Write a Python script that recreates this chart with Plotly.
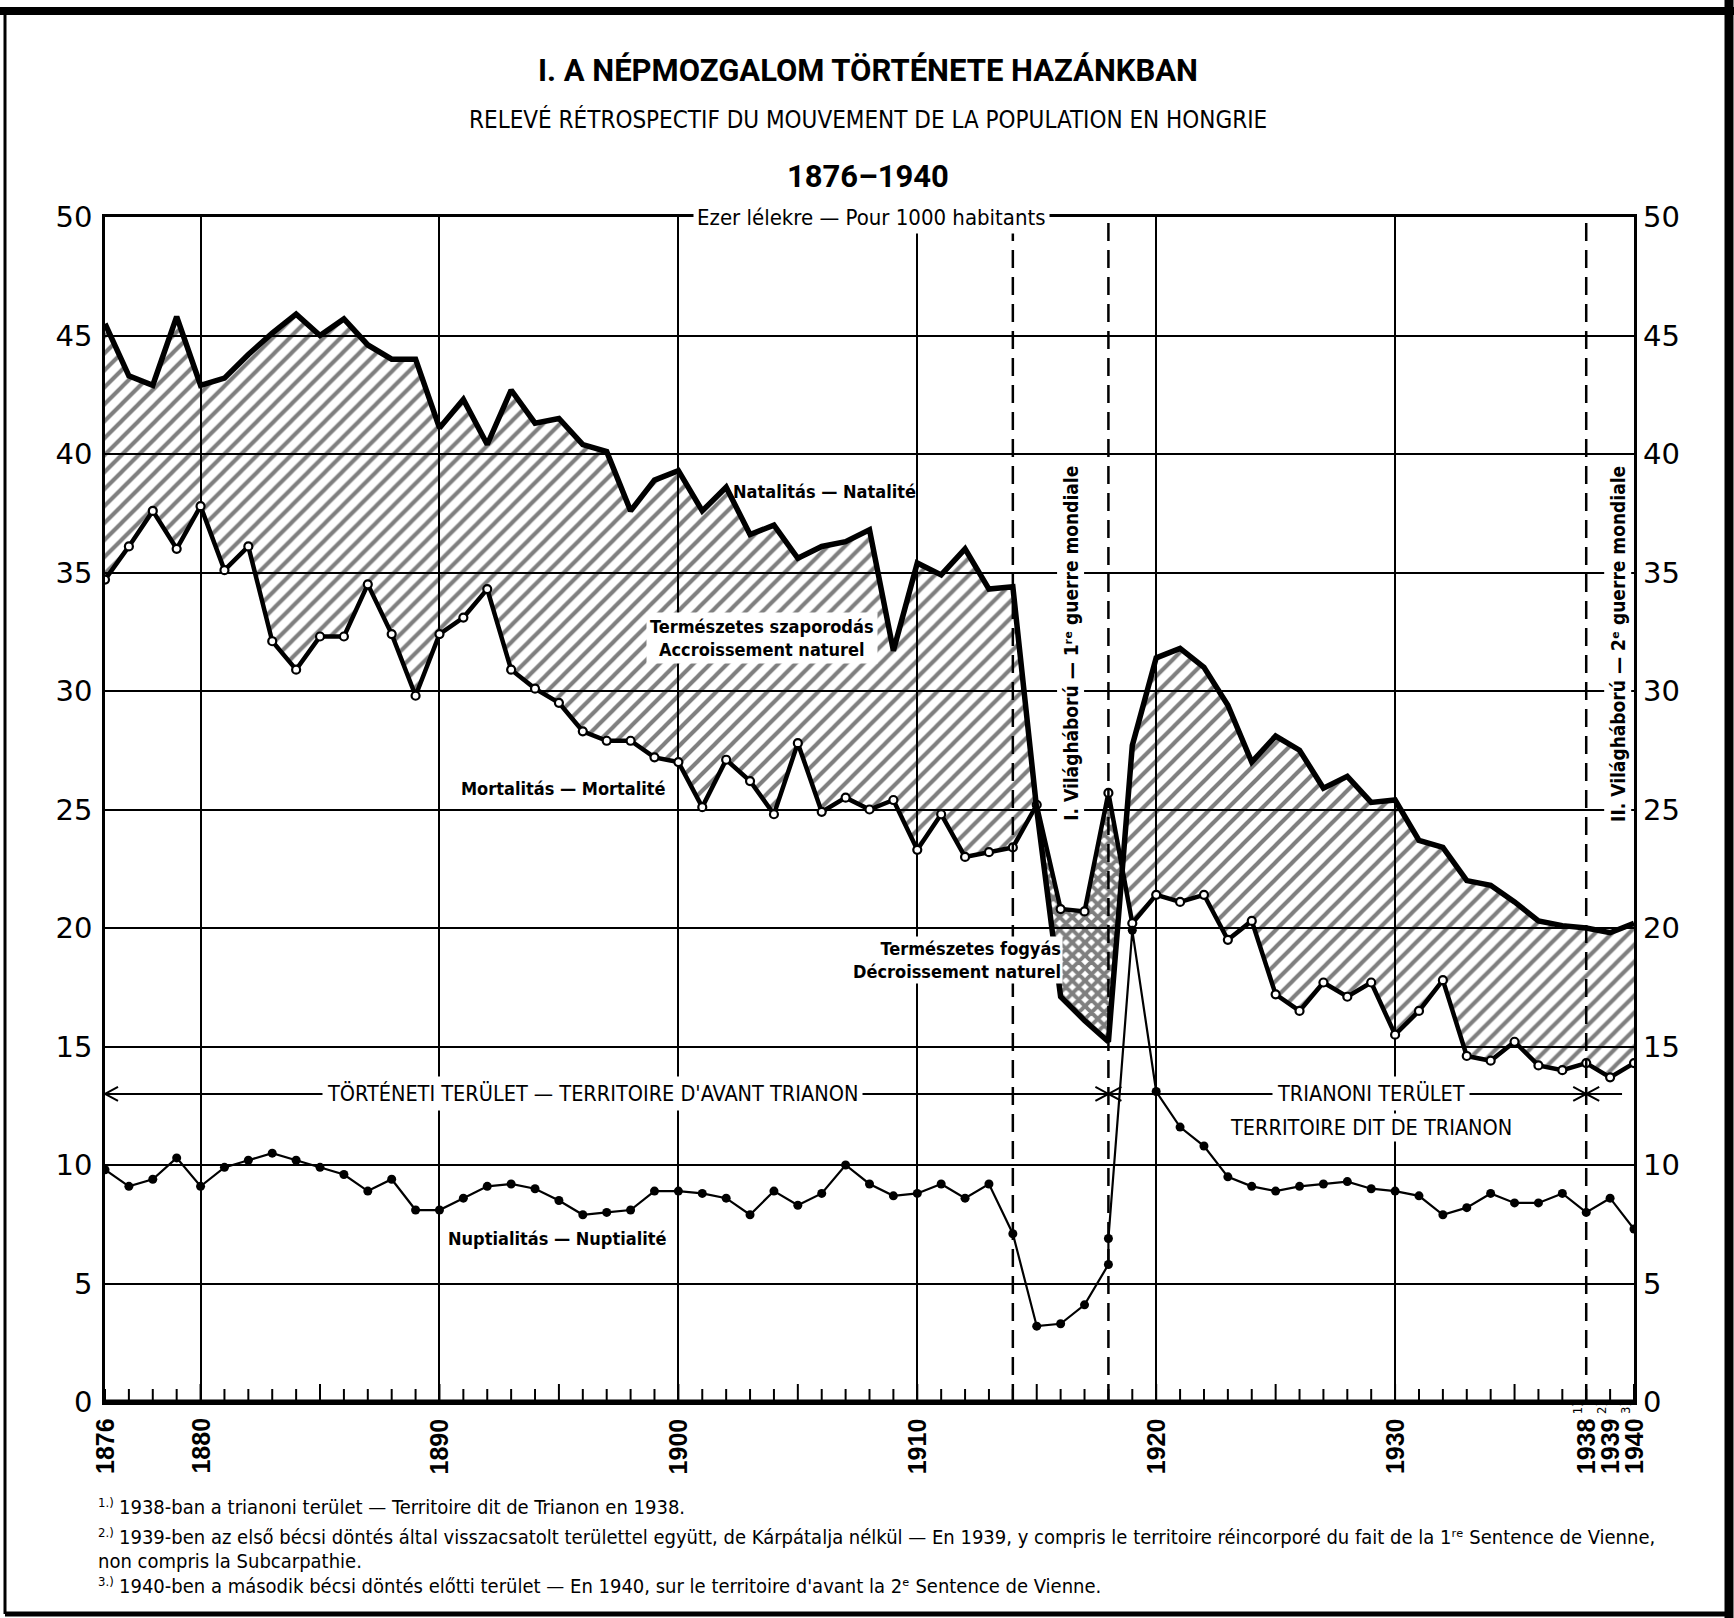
import numpy as np
import plotly.graph_objects as go

# ---------------- data (per 1000 inhabitants) ----------------
years = list(range(1876, 1941))
natality = [45.5, 43.3, 42.9, 45.8, 42.9, 43.2, 44.2, 45.1, 45.9, 45.0,
            45.7, 44.6, 44.0, 44.0, 41.1, 42.3, 40.4, 42.7, 41.3, 41.5,
            40.4, 40.1, 37.6, 38.9, 39.3, 37.6, 38.6, 36.6, 37.0, 35.6,
            36.1, 36.3, 36.8, 31.7, 35.4, 34.9, 36.0, 34.3, 34.4, 25.0,
            17.1, 16.1, 15.2, 27.7, 31.4, 31.8, 31.0, 29.4, 27.0, 28.1,
            27.5, 25.9, 26.4, 25.3, 25.4, 23.7, 23.4, 22.0, 21.8, 21.1,
            20.3, 20.1, 20.0, 19.8, 20.2]
mortality = [34.7, 36.1, 37.6, 36.0, 37.8, 35.1, 36.1, 32.1, 30.9, 32.3,
             32.3, 34.5, 32.4, 29.8, 32.4, 33.1, 34.3, 30.9, 30.1, 29.5,
             28.3, 27.9, 27.9, 27.2, 27.0, 25.1, 27.1, 26.2, 24.8, 27.8,
             24.9, 25.5, 25.0, 25.4, 23.3, 24.8, 23.0, 23.2, 23.4, 25.2,
             20.8, 20.7, 25.7, 20.2, 21.4, 21.1, 21.4, 19.5, 20.3, 17.2,
             16.5, 17.7, 17.1, 17.7, 15.5, 16.5, 17.8, 14.6, 14.4, 15.2,
             14.2, 14.0, 14.3, 13.7, 14.3]
nupt_years = [1876, 1877, 1878, 1879, 1880, 1881, 1882, 1883, 1884, 1885,
              1886, 1887, 1888, 1889, 1890, 1891, 1892, 1893, 1894, 1895,
              1896, 1897, 1898, 1899, 1900, 1901, 1902, 1903, 1904, 1905,
              1906, 1907, 1908, 1909, 1910, 1911, 1912, 1913, 1914, 1915,
              1916, 1917, 1918, 1918, 1919, 1920, 1921, 1922, 1923, 1924,
              1925, 1926, 1927, 1928, 1929, 1930, 1931, 1932, 1933, 1934,
              1935, 1936, 1937, 1938, 1939, 1940]
nuptiality = [9.8, 9.1, 9.4, 10.3, 9.1, 9.9, 10.2, 10.5, 10.2, 9.9,
              9.6, 8.9, 9.4, 8.1, 8.1, 8.6, 9.1, 9.2, 9.0, 8.5,
              7.9, 8.0, 8.1, 8.9, 8.9, 8.8, 8.6, 7.9, 8.9, 8.3,
              8.8, 10.0, 9.2, 8.7, 8.8, 9.2, 8.6, 9.2, 7.1, 3.2,
              3.3, 4.1, 5.8, 6.9, 19.9, 13.1, 11.6, 10.8, 9.5, 9.1,
              8.9, 9.1, 9.2, 9.3, 9.0, 8.9, 8.7, 7.9, 8.2, 8.8,
              8.4, 8.4, 8.8, 8.0, 8.6, 7.3]

y_ticks = list(range(0, 51, 5))
decade_years = [1880, 1890, 1900, 1910, 1920, 1930]
label_years = [1876, 1880, 1890, 1900, 1910, 1920, 1930, 1938, 1939, 1940]
label_texts = [str(v) for v in label_years]
note_years = [1938, 1939, 1940]
note_marks = ["1)", "2)", "3)"]
war_lines = [1914, 1918, 1938]
territory_level = 13
territory_bounds = [1876, 1918, 1938, 1939.5]

# ---------------- layout geometry ----------------
W, H = 1734, 1618
L, R, T, B = 105, 100, 217, 216
PW, PH = W - L - R, H - T - B


def paper(xp, yp):
    return (xp - L) / PW, (H - B - yp) / PH


NARROW = "Liberation Sans Narrow, DejaVu Sans Condensed, Arial Narrow, Roboto Condensed, sans-serif"
TITLEF = "Roboto, Liberation Sans, Arial, sans-serif"
BOLDF = "Liberation Sans, Arial, Helvetica, sans-serif"
GEOM = "DejaVu Sans, Verdana, sans-serif"

fig = go.Figure()


# ---------------- filled regions (split where the curves cross) ----------------
def split_regions(x, a, b):
    x = np.asarray(x, float)
    a = np.asarray(a, float)
    b = np.asarray(b, float)
    d = a - b
    regs = []
    cx, ca, cb = [x[0]], [a[0]], [b[0]]
    sign = np.sign(d[0])
    for i in range(1, len(x)):
        s = np.sign(d[i])
        if s != 0 and sign != 0 and s != sign:
            t = d[i - 1] / (d[i - 1] - d[i])
            xc = x[i - 1] + t * (x[i] - x[i - 1])
            yc = a[i - 1] + t * (a[i] - a[i - 1])
            cx.append(xc); ca.append(yc); cb.append(yc)
            regs.append((sign, cx, ca, cb))
            cx, ca, cb = [xc], [yc], [yc]
            sign = s
        cx.append(x[i]); ca.append(a[i]); cb.append(b[i])
    regs.append((sign, cx, ca, cb))
    return regs


for sign, rx, ra, rb in split_regions(years, natality, mortality):
    px_ = list(rx) + list(rx)[::-1]
    py_ = list(ra) + list(rb)[::-1]
    if sign > 0:
        pat = dict(shape="/", size=12, solidity=0.34, fgcolor="black",
                   bgcolor="rgba(0,0,0,0)", fillmode="overlay")
    else:
        pat = dict(shape="x", size=9, solidity=0.68, fgcolor="black",
                   bgcolor="rgba(0,0,0,0)", fillmode="overlay")
    fig.add_trace(go.Scatter(x=px_, y=py_, fill="toself", mode="none",
                             fillcolor="rgba(0,0,0,0)", fillpattern=pat,
                             hoverinfo="skip", showlegend=False))

# ---------------- lines ----------------
fig.add_trace(go.Scatter(x=years, y=mortality, mode="lines+markers",
                         line=dict(color="black", width=4.5),
                         marker=dict(symbol="circle", size=8, color="white",
                                     line=dict(color="black", width=2.2)),
                         showlegend=False, hoverinfo="skip"))
fig.add_trace(go.Scatter(x=years, y=natality, mode="lines",
                         line=dict(color="black", width=5.5),
                         showlegend=False, hoverinfo="skip"))
fig.add_trace(go.Scatter(x=nupt_years, y=nuptiality, mode="lines+markers",
                         line=dict(color="black", width=2.2),
                         marker=dict(symbol="circle", size=9, color="black"),
                         showlegend=False, hoverinfo="skip"))
# empty trace to register the right-hand axis
fig.add_trace(go.Scatter(x=[], y=[], yaxis="y2", showlegend=False))

# ---------------- shapes ----------------
shapes = []
for wy in war_lines:
    shapes.append(dict(type="line", xref="x", yref="y", x0=wy, x1=wy, y0=0, y1=50,
                       line=dict(color="black", width=2.5, dash="18px,9px"), layer="above"))
# year ticks on the base line
for yr in years:
    up = 18 if yr % 5 == 0 else 13
    shapes.append(dict(type="line", xref="x", yref="y", x0=yr, x1=yr,
                       ysizemode="pixel", yanchor=0, y0=-10, y1=up,
                       line=dict(color="black", width=2), layer="above"))
# thick base line
shapes.append(dict(type="line", xref="paper", yref="y", x0=0, x1=1, y0=0, y1=0,
                   line=dict(color="black", width=5), layer="above"))

# territory line with chevron arrow heads
shapes.append(dict(type="line", xref="x", yref="y", x0=territory_bounds[0],
                   x1=territory_bounds[-1], y0=territory_level, y1=territory_level,
                   line=dict(color="black", width=2), layer="above"))
LEFT_HEAD = "M 13 7 L 0 0 L 13 -7"
RIGHT_HEAD = "M -13 7 L 0 0 L -13 -7"
heads = [(territory_bounds[0], [LEFT_HEAD])]
for xb in territory_bounds[1:3]:
    heads.append((xb, [LEFT_HEAD, RIGHT_HEAD]))
for xb, paths in heads:
    for pth in paths:
        shapes.append(dict(type="path", xref="x", yref="y", xsizemode="pixel",
                           ysizemode="pixel", xanchor=xb, yanchor=territory_level,
                           path=pth, line=dict(color="black", width=2), layer="above"))

# outer frame
fx0, fy0 = paper(5, 11)
fx1, fy1 = paper(1729, 1614)
shapes.append(dict(type="line", xref="paper", yref="paper", x0=paper(0, 0)[0], x1=paper(W, 0)[0],
                   y0=fy0, y1=fy0, line=dict(color="black", width=8)))
shapes.append(dict(type="line", xref="paper", yref="paper", x0=fx1, x1=fx1,
                   y0=paper(0, 0)[1], y1=paper(0, H)[1], line=dict(color="black", width=9)))
shapes.append(dict(type="line", xref="paper", yref="paper", x0=fx0, x1=fx0,
                   y0=fy0, y1=fy1, line=dict(color="black", width=3)))
shapes.append(dict(type="line", xref="paper", yref="paper", x0=fx0, x1=fx1,
                   y0=fy1, y1=fy1, line=dict(color="black", width=5)))

# ---------------- annotations ----------------
ann = []


def text(x, y, s, size=19, font=NARROW, xref="x", yref="y", bg="rgba(0,0,0,0)", angle=0,
         xanchor="center", yanchor="middle", align="center", color="black", pad=1):
    ann.append(dict(x=x, y=y, xref=xref, yref=yref, text=s, showarrow=False, textangle=angle,
                    xanchor=xanchor, yanchor=yanchor, align=align, bgcolor=bg, borderpad=pad,
                    font=dict(family=font, size=size, color=color)))


# titles
tx, ty = paper(868, 70)
text(tx, ty, "<b>I. A NÉPMOZGALOM TÖRTÉNETE HAZÁNKBAN</b>", size=31, font=TITLEF,
     xref="paper", yref="paper")
tx, ty = paper(868, 120)
text(tx, ty, "RELEVÉ RÉTROSPECTIF DU MOUVEMENT DE LA POPULATION EN HONGRIE", size=24,
     xref="paper", yref="paper")
tx, ty = paper(868, 177)
text(tx, ty, "<b>1876–1940</b>", size=31, font=TITLEF, xref="paper", yref="paper")

text(1908.1, 50, "Ezer lélekre — Pour 1000 habitants", size=22, bg="white", pad=3)
text(1906.1, 38.4, "<b>Natalitás — Natalité</b>", size=18)
text(1903.5, 32.25, "<b>Természetes szaporodás<br>Accroissement naturel</b>", size=18,
     bg="white", pad=3)
text(1895.2, 25.9, "<b>Mortalitás — Mortalité</b>", size=18)
text(1916.1, 18.65, "<b>Természetes fogyás<br>Décroissement naturel</b>", size=18,
     bg="white", xanchor="right", align="right")
text(1894.9, 6.9, "<b>Nuptialitás — Nuptialité</b>", size=18)
text(1916.4, 32.0, "<b>I. Világháború — 1ʳᵉ guerre mondiale</b>", size=19,
     angle=-90, bg="white", pad=2)
text(1939.3, 32.0, "<b>II. Világháború — 2ᵉ guerre mondiale</b>", size=19,
     angle=-90, bg="white", pad=2)

text(1896.4, territory_level, "TÖRTÉNETI TERÜLET — TERRITOIRE D'AVANT TRIANON", size=21.5,
     bg="white", pad=4)
text(1929.0, territory_level, "TRIANONI TERÜLET", size=21.5, bg="white", pad=4)
text(1929.0, 11.6, "TERRITOIRE DIT DE TRIANON", size=21.5, bg="white", pad=1)

# x tick labels (rotated)
for yr, lab in zip(label_years, label_texts):
    ann.append(dict(x=yr, y=0, xref="x", yref="y", text="<b>" + lab + "</b>", showarrow=False,
                    textangle=-90, xanchor="center", yanchor="top", yshift=-14,
                    font=dict(family=BOLDF, size=25, color="black")))
for yr, mk in zip(note_years, note_marks):
    ann.append(dict(x=yr - 0.38, y=0, xref="x", yref="y", text=mk, showarrow=False,
                    textangle=-90, xanchor="center", yanchor="top", yshift=2,
                    font=dict(family=NARROW, size=13, color="black")))

# footnotes: small raised marks + text lines
notes = [
    (1507, "1.)", "1938-ban a trianoni terület — Territoire dit de Trianon en 1938."),
    (1537, "2.)", "1939-ben az első bécsi döntés által visszacsatolt területtel együtt, de Kárpátalja nélkül — En 1939, y compris le territoire réincorporé du fait de la 1ʳᵉ Sentence de Vienne,"),
    (1561, "", "non compris la Subcarpathie."),
    (1586, "3.)", "1940-ben a második bécsi döntés előtti terület — En 1940, sur le territoire d'avant la 2ᵉ Sentence de Vienne."),
]
for yp, mark, s in notes:
    if mark:
        mx, my = paper(96, yp - 5)
        text(mx, my, mark, size=13, xref="paper", yref="paper", xanchor="left", align="left")
        nx, ny = paper(117, yp)
    else:
        nx, ny = paper(96, yp)
    text(nx, ny, s, size=20, xref="paper", yref="paper", xanchor="left", align="left")

# ---------------- axes ----------------
axis_font = dict(family=GEOM, size=29, color="black")
fig.update_layout(
    width=W, height=H,
    margin=dict(l=L, r=R, t=T, b=B, autoexpand=False),
    paper_bgcolor="white", plot_bgcolor="white",
    showlegend=False,
    xaxis=dict(range=[1876, 1940], tickmode="array", tickvals=decade_years,
               showticklabels=False, ticks="", showgrid=True, gridcolor="black",
               gridwidth=1.6, zeroline=False, showline=True, mirror=True,
               linecolor="black", linewidth=2.5),
    yaxis=dict(range=[0, 50], tickmode="array", tickvals=y_ticks,
               ticktext=[str(v) for v in y_ticks], tickfont=axis_font,
               ticks="", ticklabelstandoff=4, showgrid=True, gridcolor="black",
               gridwidth=2.2, zeroline=False, showline=True, mirror=True,
               linecolor="black", linewidth=2.5),
    yaxis2=dict(range=[0, 50], overlaying="y", side="right", tickmode="array",
                tickvals=y_ticks, ticktext=[str(v) for v in y_ticks], tickfont=axis_font,
                ticks="", ticklabelstandoff=8, showgrid=False, zeroline=False,
                showline=False),
    shapes=shapes,
    annotations=ann,
)

fig.write_html("out.html", config={"displayModeBar": False},
               post_script="document.body.style.margin='0';document.body.style.overflow='hidden';")
